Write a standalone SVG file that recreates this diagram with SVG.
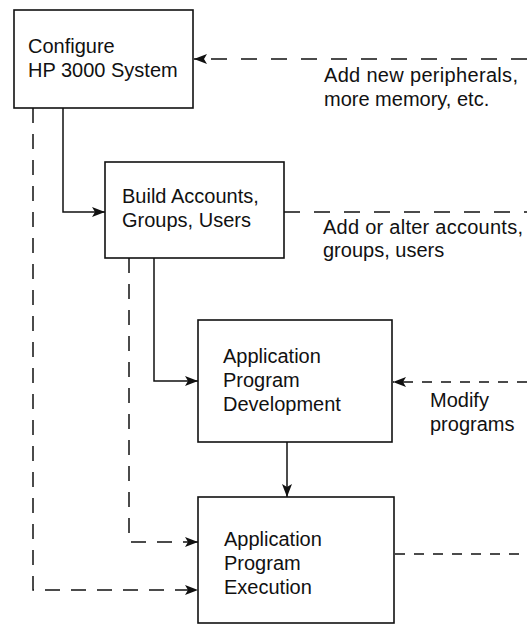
<svg xmlns="http://www.w3.org/2000/svg" width="527" height="624" viewBox="0 0 527 624">
<style>
.box{fill:#fff;stroke:#111;stroke-width:1.6}
.t{font-family:"Liberation Sans",Arial,Helvetica,sans-serif;font-size:20px;fill:#111}
.s{fill:none;stroke:#111;stroke-width:1.5}
.d1{fill:none;stroke:#111;stroke-width:1.5;stroke-dasharray:16 14}
.d2{fill:none;stroke:#111;stroke-width:1.5;stroke-dasharray:15 11}
.d3{fill:none;stroke:#111;stroke-width:1.5;stroke-dasharray:10 9}
</style>
<defs>
<marker id="ah" viewBox="0 0 13 10" refX="13" refY="5" markerWidth="13" markerHeight="10" markerUnits="userSpaceOnUse" orient="auto">
<path d="M0,0 L13,5 L0,10 L3,5 Z" fill="#111"/>
</marker>
</defs>
<rect width="527" height="624" fill="#fff"/>
<g id="connectors">
<path class="d1" d="M527,59 H194" marker-end="url(#ah)"/>
<path class="s" d="M63,108 V212 H105" marker-end="url(#ah)"/>
<path class="d2" d="M33,108 V590 H198" marker-end="url(#ah)"/>
<path class="d2" d="M129,258 V542 H198" marker-end="url(#ah)"/>
<path class="s" d="M154,258 V381 H198" marker-end="url(#ah)"/>
<path class="d1" d="M284,212 H527"/>
<path class="d3" d="M527,382 H393" marker-end="url(#ah)"/>
<path class="s" d="M287,442 V497" marker-end="url(#ah)"/>
<path class="d3" d="M395,554 H527"/>
</g>
<g id="labels">
<text class="t" x="324" y="82" textLength="194">Add new peripherals,</text>
<text class="t" x="324" y="106">more memory, etc.</text>
<text class="t" x="323" y="234" textLength="200">Add or alter accounts,</text>
<text class="t" x="323" y="257">groups, users</text>
<text class="t" x="430" y="407">Modify</text>
<text class="t" x="430" y="431">programs</text>
</g>
<g id="configure">
<rect class="box" x="14" y="10" width="179" height="98"/>
<text class="t" x="28" y="53">Configure</text>
<text class="t" x="28" y="77">HP 3000 System</text>
</g>
<g id="build">
<rect class="box" x="105" y="162" width="179" height="96"/>
<text class="t" x="122" y="203">Build Accounts,</text>
<text class="t" x="122" y="227">Groups, Users</text>
</g>
<g id="develop">
<rect class="box" x="198" y="320" width="194" height="122"/>
<text class="t" x="223" y="363">Application</text>
<text class="t" x="223" y="387">Program</text>
<text class="t" x="223" y="411">Development</text>
</g>
<g id="execute">
<rect class="box" x="198" y="497" width="196" height="126"/>
<text class="t" x="224" y="546">Application</text>
<text class="t" x="224" y="570">Program</text>
<text class="t" x="224" y="594">Execution</text>
</g>
</svg>
